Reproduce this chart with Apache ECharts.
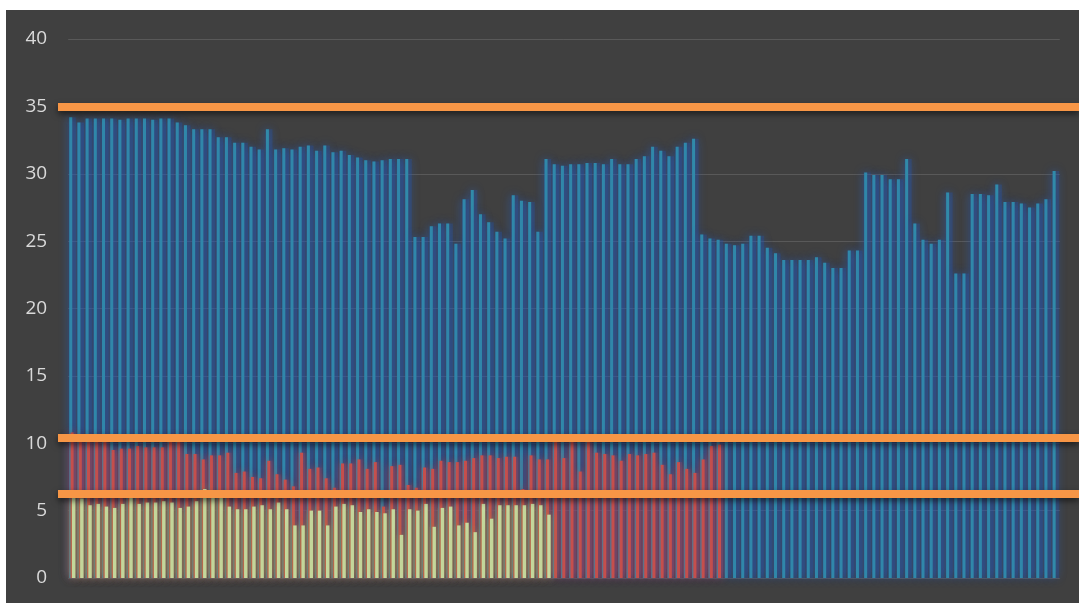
<!DOCTYPE html>
<html>
<head>
<meta charset="utf-8">
<script src="https://cdn.jsdelivr.net/npm/echarts@6/dist/echarts.min.js"></script>
<style>
  html, body { margin: 0; padding: 0; background: #ffffff; }
  #main { position: absolute; left: 6px; top: 10px; width: 1073px; height: 593px; background: #404040; }
</style>
</head>
<body>
<div id="main"></div>
<script>
// blue series, one value per category (121)
const blueValues = [
  34.2, 33.8, 34.1, 34.1, 34.1, 34.1, 34.0, 34.1, 34.1, 34.1,
  34.0, 34.1, 34.1, 33.8, 33.6, 33.3, 33.3, 33.3, 32.7, 32.7,
  32.3, 32.3, 32.0, 31.8, 33.3, 31.8, 31.9, 31.8, 32.0, 32.1,
  31.7, 32.1, 31.6, 31.7, 31.4, 31.2, 31.0, 30.9, 31.0, 31.1,
  31.1, 31.1, 25.3, 25.3, 26.1, 26.3, 26.3, 24.8, 28.1, 28.8,
  27.0, 26.4, 25.7, 25.2, 28.4, 28.0, 27.9, 25.7, 31.1, 30.7,
  30.6, 30.7, 30.7, 30.8, 30.8, 30.7, 31.1, 30.7, 30.7, 31.1,
  31.3, 32.0, 31.7, 31.3, 32.0, 32.3, 32.6, 25.5, 25.2, 25.1,
  24.8, 24.7, 24.8, 25.4, 25.4, 24.5, 24.1, 23.6, 23.6, 23.6,
  23.6, 23.8, 23.4, 23.0, 23.0, 24.3, 24.3, 30.1, 29.9, 29.9,
  29.6, 29.6, 31.1, 26.3, 25.1, 24.8, 25.1, 28.6, 22.6, 22.6,
  28.5, 28.5, 28.4, 29.2, 27.9, 27.9, 27.8, 27.5, 27.8, 28.1,
  30.2
]
// red series (first 80 categories)
const redValues = [
  10.8, 10.5, 10.3, 10.4, 10.2, 9.5, 9.6, 9.6, 9.8, 9.7,
  9.7, 9.7, 10.3, 10.4, 9.2, 9.2, 8.8, 9.1, 9.1, 9.3,
  7.8, 7.9, 7.5, 7.4, 8.7, 7.7, 7.3, 6.8, 9.3, 8.1,
  8.2, 7.4, 6.7, 8.5, 8.5, 8.8, 8.1, 8.6, 5.3, 8.3,
  8.4, 6.9, 6.7, 8.2, 8.1, 8.7, 8.6, 8.6, 8.7, 8.9,
  9.1, 9.1, 8.9, 9.0, 9.0, 6.6, 9.1, 8.8, 8.8, 10.3,
  8.9, 10.3, 7.9, 10.3, 9.3, 9.2, 9.1, 8.7, 9.2, 9.1,
  9.2, 9.3, 8.4, 7.7, 8.6, 8.1, 7.8, 8.8, 9.8, 9.9
]
// yellow series (first 59 categories)
const yellowValues = [
  6.0, 5.9, 5.4, 5.5, 5.3, 5.2, 5.5, 6.0, 5.5, 5.6,
  5.6, 5.7, 5.6, 5.2, 5.3, 5.7, 6.6, 6.1, 6.0, 5.3,
  5.1, 5.1, 5.3, 5.4, 5.1, 5.6, 5.1, 3.9, 3.9, 5.0,
  5.0, 3.9, 5.3, 5.5, 5.4, 4.9, 5.1, 4.9, 4.8, 5.1,
  3.2, 5.1, 5.0, 5.5, 3.8, 5.2, 5.3, 3.9, 4.1, 3.4,
  5.5, 4.4, 5.4, 5.4, 5.4, 5.4, 5.5, 5.4, 4.7
]
// horizontal reference lines
const refLines = [35, 10.4, 6.25]
const yTicks = { min: 0, max: 40, interval: 5 }

const categories = blueValues.map((_, i) => String(i + 1))

function glowBar(name, data, color, glow, width, blur) {
  return {
    name: name,
    type: 'bar',
    data: data,
    barWidth: width,
    barGap: '-55%',
    silent: true,
    itemStyle: { color: color, shadowColor: glow, shadowBlur: blur }
  }
}

// soft halo behind each series, drawn on a hidden twin category axis
function halo(data, color) {
  return {
    type: 'bar',
    xAxisIndex: 1,
    data: data,
    barWidth: 7,
    barGap: '-100%',
    silent: true,
    itemStyle: { color: color, shadowColor: color, shadowBlur: 12 }
  }
}

const chart = echarts.init(document.getElementById('main'))
const blueSeries = glowBar('A', blueValues, '#318aa9', 'rgba(45,95,185,1)', 3, 10)
blueSeries.markLine = {
  silent: true,
  symbol: 'none',
  label: { show: false },
  lineStyle: {
    color: '#f79646', width: 8, type: 'solid', opacity: 1,
    shadowColor: 'rgba(0,0,0,0.55)', shadowBlur: 6, shadowOffsetY: 3
  },
  data: refLines.map(v => [{ x: 52, yAxis: v }, { x: '100%', yAxis: v }])
}

const hiddenAxis = {
  type: 'category',
  data: categories,
  axisLine: { show: false },
  axisTick: { show: false },
  axisLabel: { show: false },
  splitLine: { show: false }
}

chart.setOption({
  backgroundColor: '#404040',
  animation: false,
  grid: { left: 62.2, right: 19.2, top: 29, bottom: 25 },
  xAxis: [hiddenAxis, Object.assign({}, hiddenAxis)],
  yAxis: {
    type: 'value',
    min: yTicks.min,
    max: yTicks.max,
    interval: yTicks.interval,
    axisLine: { show: false },
    axisTick: { show: false },
    axisLabel: { color: '#d9d9d9', fontSize: 19, fontFamily: 'Open Sans', margin: 21 },
    splitLine: { lineStyle: { color: '#595959', width: 1 } }
  },
  series: [
    halo(blueValues, 'rgba(35,90,190,0.27)'),
    halo(redValues, 'rgba(200,60,60,0.28)'),
    halo(yellowValues, 'rgba(170,170,80,0.4)'),
    blueSeries,
    glowBar('B', redValues, '#c5504d', 'rgba(205,70,70,0.9)', 3, 9),
    glowBar('C', yellowValues, '#c6d99f', 'rgba(150,165,80,0.85)', 3.4, 8)
  ]
})
</script>
</body>
</html>
